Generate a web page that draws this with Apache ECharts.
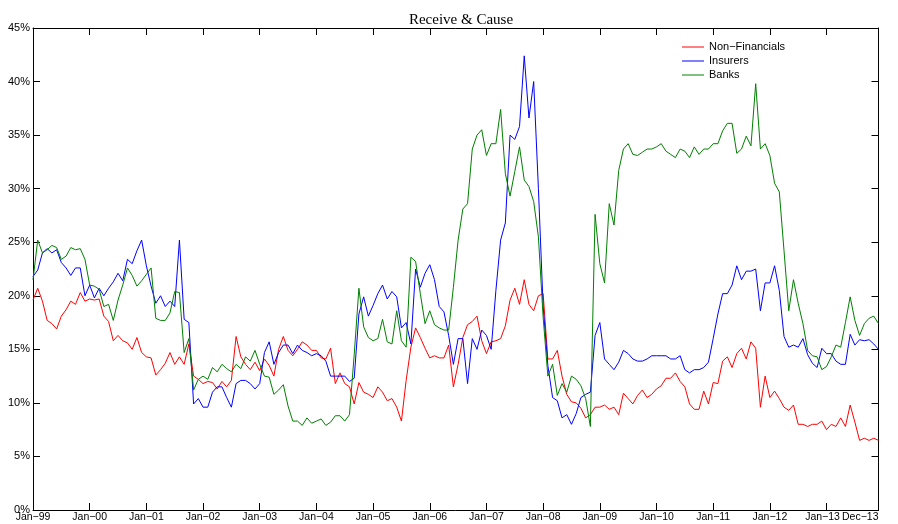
<!DOCTYPE html>
<html>
<head>
<meta charset="utf-8">
<script src="https://cdn.jsdelivr.net/npm/echarts@6/dist/echarts.min.js"></script>
<style>
html,body{margin:0;padding:0;background:#fff;}
#chart{width:898px;height:524px;}
</style>
</head>
<body>
<div id="chart"></div>
<script>
// Month names and years used to build the monthly categories (Jan-99 .. Dec-13)
var monthNames = ['Jan','Feb','Mar','Apr','May','Jun','Jul','Aug','Sep','Oct','Nov','Dec'];
var years = ['99','00','01','02','03','04','05','06','07','08','09','10','11','12','13'];

// Tick labels shown on the x axis
var tickLabels = ['Jan\u221299','Jan\u221200','Jan\u221201','Jan\u221202','Jan\u221203','Jan\u221204','Jan\u221205','Jan\u221206','Jan\u221207','Jan\u221208','Jan\u221209','Jan\u221210','Jan\u221211','Jan\u221212','Jan\u221213'];
var endLabel = 'Dec\u221213';

// Series values (%), monthly
var nonFinancials = [
19.6,20.7,19.5,17.7,17.4,16.9,18.1,18.7,19.5,19.2,
20.3,19.5,19.7,19.6,19.7,18.1,17.6,15.8,16.3,15.8,
15.6,15.0,16.1,14.7,14.3,14.2,12.6,13.1,13.7,14.7,
13.6,14.3,13.6,15.5,12.5,12.2,11.8,12.0,11.9,11.3,
12.0,11.5,12.1,16.2,14.3,13.6,13.1,13.8,13.0,14.1,
13.5,12.5,15.0,16.2,14.9,14.4,15.0,15.7,15.4,14.9,
14.9,14.2,14.1,15.1,11.8,12.8,11.8,11.5,9.9,11.9,
11.0,10.8,10.5,11.5,11.0,10.2,10.4,9.6,8.3,12.1,
15.2,17.0,16.1,15.1,14.2,14.4,14.2,14.2,15.4,11.5,
13.6,16.1,17.3,17.6,18.1,15.8,14.6,15.7,15.8,16.0,
17.2,19.6,20.7,19.2,21.5,19.2,18.6,20.0,20.2,14.1,
14.1,14.9,12.5,10.8,10.1,10.0,9.5,8.6,8.9,9.6,
9.6,9.8,9.4,9.6,8.9,10.9,10.4,9.9,10.7,11.2,
10.5,10.8,11.3,11.6,12.3,12.3,12.8,12.0,11.5,9.9,
9.4,9.4,11.1,9.9,11.9,11.8,13.9,14.3,13.3,14.6,
15.1,14.1,15.7,15.1,9.6,12.5,10.5,11.1,10.4,9.6,
9.3,9.8,8.0,8.0,7.8,8.0,8.0,8.3,7.5,8.0,
7.8,8.6,7.8,9.8,8.2,6.5,6.7,6.5,6.7,6.5
];
var insurers = [
21.8,22.4,24.0,24.4,24.0,24.3,23.1,22.6,21.9,22.6,
22.6,20.0,21.0,19.8,20.7,20.0,20.7,21.3,22.1,21.4,
23.4,23.0,24.2,25.2,22.8,20.9,19.3,20.0,19.0,19.5,
19.0,25.2,17.8,17.5,9.9,10.4,9.6,9.6,11.0,11.5,
11.5,10.5,9.6,11.8,12.1,12.1,11.8,11.3,11.8,14.7,
15.7,13.6,14.7,15.4,15.4,14.6,15.4,14.9,14.7,14.4,
14.6,14.4,13.9,12.5,12.5,12.5,12.5,12.0,12.3,18.3,
19.9,18.1,19.1,20.2,21.0,19.7,20.4,19.9,17.0,17.5,
15.5,22.5,20.8,22.1,22.9,21.5,19.0,18.5,16.3,13.6,
16.0,16.0,11.8,16.0,15.0,16.8,16.3,15.0,20.5,25.2,
26.8,35.0,34.6,35.8,42.4,36.6,40.0,30.0,19.0,13.5,
10.5,10.2,8.6,8.9,8.0,9.0,10.5,10.8,11.0,16.3,
17.5,14.1,13.6,13.1,13.8,14.9,14.6,14.1,13.9,13.9,
14.1,14.4,14.4,14.4,14.4,14.1,14.1,14.4,13.1,12.8,
13.1,13.1,13.3,13.8,16.0,18.3,20.2,20.2,21.0,22.8,
21.5,22.3,22.3,22.5,18.6,21.2,21.2,22.8,20.5,16.2,
15.2,15.4,15.2,16.0,14.5,13.7,13.3,15.1,14.6,14.6,
13.9,13.6,13.6,16.4,15.4,15.9,15.8,15.9,15.5,15.0
];
var banks = [
21.5,25.2,24.0,24.3,24.7,24.5,23.4,23.7,24.5,24.3,
24.4,23.4,21.0,20.9,20.6,19.0,19.2,17.7,19.6,21.0,
22.6,21.9,20.9,21.4,22.0,22.6,17.9,17.7,17.7,18.4,
20.4,20.3,14.7,16.0,11.2,12.2,12.5,12.2,13.3,12.9,
13.6,13.2,12.9,13.6,13.2,14.3,13.9,14.9,13.6,12.5,
12.4,10.8,11.2,11.7,9.7,8.3,8.3,7.9,8.6,8.1,
8.3,8.5,7.9,8.2,8.8,8.8,8.3,8.9,14.5,20.7,
17.1,16.1,15.8,16.0,17.8,15.7,15.5,18.6,15.8,15.2,
23.6,23.2,20.2,17.4,18.6,17.3,17.0,16.8,16.8,20.8,
25.2,28.1,28.6,33.7,35.0,35.5,33.1,34.2,34.2,37.4,
31.4,29.3,31.6,33.9,30.8,30.2,28.8,25.5,18.0,12.5,
13.6,10.7,11.8,11.0,12.5,12.2,11.6,10.4,7.8,27.6,
23.0,21.2,28.6,26.6,31.7,33.7,34.2,33.2,33.1,33.4,
33.7,33.7,33.9,34.2,33.5,33.2,32.9,33.7,33.5,32.9,
33.9,33.2,33.7,33.7,34.2,34.2,35.4,36.1,36.1,33.3,
33.7,34.9,34.0,39.8,33.7,34.2,33.1,30.5,29.7,24.2,
18.6,21.5,19.3,17.4,14.9,14.4,14.3,13.1,13.4,14.3,
15.4,15.2,17.5,19.9,17.7,16.3,17.4,17.9,18.1,17.4
];

var categories = [];
years.forEach(function (y) {
  monthNames.forEach(function (m) { categories.push(m + '\u2212' + y); });
});
function isLabelIdx(i) { return tickLabels.indexOf(categories[i]) >= 0; }
function isEndIdx(i) { return categories[i] === endLabel; }
function isTickIdx(i) { return i % 12 === 0; }
var lastTick = tickLabels[tickLabels.length - 1];

var chart = echarts.init(document.getElementById('chart'), null, {renderer: 'canvas'});
var axisFont = 'Liberation Sans, Arial, Helvetica, sans-serif';
var lineAxis = {show: true, onZero: false, lineStyle: {color: '#000', width: 1}};
var tickStyle = {color: '#000', width: 1};
var labelStyle = {fontFamily: axisFont, fontSize: 10.5, color: '#000'};

chart.setOption({
  animation: false,
  backgroundColor: '#fff',
  title: {
    text: 'Receive & Cause',
    left: 456, top: 8, textAlign: 'center',
    textStyle: {fontFamily: 'Liberation Serif, Times New Roman, serif', fontSize: 15, fontWeight: 'normal', color: '#000'}
  },
  legend: {
    orient: 'vertical', left: 682, top: 40, padding: 0,
    itemWidth: 22, itemHeight: 1, itemGap: 0,
    icon: 'rect',
    textStyle: {fontFamily: axisFont, fontSize: 11, color: '#000', lineHeight: 14},
    data: ['Non\u2212Financials', 'Insurers', 'Banks']
  },
  grid: {left: 33, right: 19.5, top: 28, bottom: 14, containLabel: false},
  xAxis: [{
    type: 'category', data: categories, boundaryGap: false, position: 'bottom',
    axisLine: lineAxis,
    axisTick: {show: true, inside: true, length: 7, interval: function (i) { return isTickIdx(i); }, lineStyle: tickStyle},
    axisLabel: Object.assign({
      interval: function (i) { return isLabelIdx(i); }, margin: 2, hideOverlap: false, showMinLabel: true, showMaxLabel: true,
      formatter: function (v) { return v === lastTick ? '{s|' + v + '}' : v; },
      rich: {s: {fontFamily: axisFont, fontSize: 10.5, color: '#000', padding: [0, 8, 0, 0]}}
    }, labelStyle),
    splitLine: {show: false}
  }, {
    type: 'category', data: categories, boundaryGap: false, position: 'top',
    axisLine: lineAxis,
    axisTick: {show: true, inside: true, length: 7, interval: function (i) { return isTickIdx(i); }, lineStyle: tickStyle},
    axisLabel: {show: false},
    splitLine: {show: false}
  }, {
    type: 'category', data: categories, boundaryGap: false, position: 'bottom', offset: 0,
    axisLine: {show: false, onZero: false},
    axisTick: {show: false},
    axisLabel: Object.assign({interval: function (i) { return isEndIdx(i); }, margin: 2, hideOverlap: false, showMinLabel: true, showMaxLabel: true, alignMinLabel: 'right', alignMaxLabel: 'right'}, labelStyle),
    splitLine: {show: false}
  }],
  yAxis: [{
    type: 'value', min: 0, max: 45, interval: 5, position: 'left',
    axisLine: lineAxis,
    axisTick: {show: true, inside: true, length: 7, lineStyle: tickStyle},
    axisLabel: {formatter: '{value}%', margin: 3, fontFamily: axisFont, fontSize: 11, color: '#000'},
    splitLine: {show: false}
  }, {
    type: 'value', min: 0, max: 45, interval: 5, position: 'right',
    axisLine: lineAxis,
    axisTick: {show: true, inside: true, length: 7, lineStyle: tickStyle},
    axisLabel: {show: false},
    splitLine: {show: false}
  }],
  series: [
    {name: 'Non\u2212Financials', type: 'line', data: nonFinancials, symbol: 'none', lineStyle: {color: '#ff0000', width: 1}, itemStyle: {color: '#ff0000'}},
    {name: 'Insurers', type: 'line', data: insurers, symbol: 'none', lineStyle: {color: '#0000ff', width: 1}, itemStyle: {color: '#0000ff'}},
    {name: 'Banks', type: 'line', data: banks, symbol: 'none', lineStyle: {color: '#008000', width: 1}, itemStyle: {color: '#008000'}}
  ]
});
</script>
</body>
</html>
